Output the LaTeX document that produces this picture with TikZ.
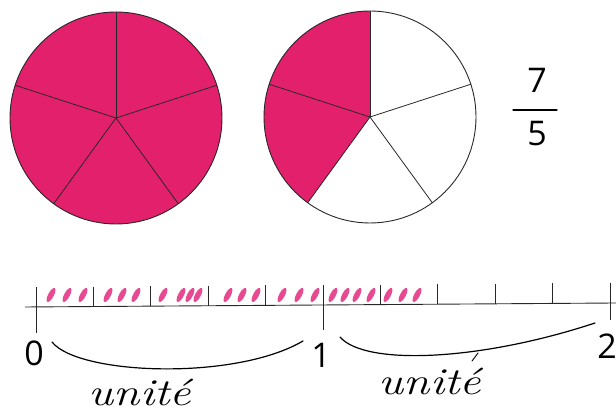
\documentclass[tikz,border=0pt]{standalone}
\usepackage{fontspec}
\setsansfont{Open Sans}
\usetikzlibrary{calc}
\definecolor{pinkfill}{RGB}{226,32,108}
\definecolor{pinkdash}{RGB}{232,74,146}
\definecolor{inkline}{RGB}{40,40,40}
\tikzset{
  disc/.style={draw=inkline, line width=0.9pt},
  spoke/.style={draw=inkline, line width=0.8pt},
  axisline/.style={draw=inkline, line width=0.9pt},
  tickmark/.style={draw=inkline, line width=0.8pt},
  bracecurve/.style={draw=black, line width=1.2pt, line cap=round},
  hatch/.style={fill=pinkdash, draw=none},
  numlabel/.style={font=\fontsize{34}{34}\selectfont\sffamily, inner sep=0pt},
  wordlabel/.style={font=\fontsize{38}{38}\selectfont\itshape, inner sep=0pt, xscale=1.25, transform shape}
}
\begin{document}
\begin{tikzpicture}[x=1pt,y=1pt]
\useasboundingbox (0,0) rectangle (616,411);
% ---------- left disc: 5/5 ----------
\coordinate (A) at (116,293);
\fill[pinkfill] (A) circle[radius=106];
\foreach \a in {90,18,-54,-126,162}
  \draw[spoke] (A) -- ++(\a:106);
\draw[disc] (A) circle[radius=106];
% ---------- right disc: 2/5 ----------
\coordinate (B) at (370,294);
\fill[pinkfill] (B) -- ++(90:106) arc[start angle=90, end angle=234, radius=106] -- cycle;
\foreach \a in {90,18,-54,-126,162}
  \draw[spoke] (B) -- ++(\a:106);
\draw[disc] (B) circle[radius=106];
% ---------- fraction ----------
\node[numlabel] (num) at (537,331) {7};
\node[numlabel] (den) at (537,277) {5};
\coordinate (barL) at (513,301);
\coordinate (barR) at (557,301);
\draw[line width=1.2pt, line cap=round] (barL) -- (barR);
% ---------- number line ----------
\coordinate (L) at (25,104);
\coordinate (R) at (616,108);
% pink hatching (7 fifths)
\foreach \x in {51,67,83, 108,122,136, 163,181,190,198, 228,242,256, 282,299,315, 333,345,357,371, 388,403,417}
  \fill[hatch, rotate around={-28:(\x,116)}] (\x,116) ellipse[x radius=2.8, y radius=7.8];
\draw[axisline] (L) -- (R);
\foreach \i in {0,...,10}{
  \pgfmathsetmacro{\xx}{36+\i*57.4}
  \pgfmathsetmacro{\tt}{(\xx-25)/591}
  \coordinate (T\i) at ($(L)!\tt!(R)$);
  \draw[tickmark] (T\i) -- ++(0,20);
}
\draw[tickmark] (T0) -- ++(0,-26);
\draw[tickmark] (T5) -- ++(0,-25);
\draw[tickmark] (T10) -- ++(0,-17);
\node[numlabel] (zero) at (34,58) {0};
\node[numlabel] (one) at (321,56) {1};
\node[numlabel] (two) at (607,65) {2};
% ---------- braces ----------
\coordinate (b1s) at (52,69);
\coordinate (b1e) at (303,70);
\draw[bracecurve] (b1s) .. controls (78,36) and (235,30) .. (b1e);
\coordinate (b2s) at (340,74);
\coordinate (b2e) at (595,88);
\draw[bracecurve] (b2s) .. controls (365,45) and (480,50) .. (b2e);
\coordinate (h1) at (478,58);
\coordinate (h2) at (472,50);
\draw[bracecurve, line width=0.9pt] (h1) -- (h2);
\node[wordlabel] (u1) at (140,19) {unité};
\node[wordlabel] (u2) at (430,30) {unité};
\end{tikzpicture}
\end{document}
